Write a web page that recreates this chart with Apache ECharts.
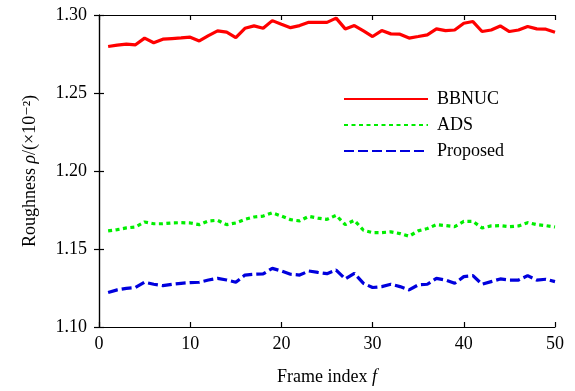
<!DOCTYPE html>
<html>
<head>
<meta charset="utf-8">
<script src="https://cdn.jsdelivr.net/npm/echarts@6/dist/echarts.min.js"></script>
<style>
  html, body { margin: 0; padding: 0; background: #fff; }
  #chart { width: 575px; height: 391px; }
</style>
</head>
<body>
<div id="chart"></div>
<script>
// frame index 1..50
const frames = []
for (let i = 1; i <= 50; i++) frames.push(i)

const bbnuc = [
  1.2798, 1.2807, 1.2813, 1.2809, 1.2852, 1.2822, 1.2845, 1.2849, 1.2853, 1.2858,
  1.2834, 1.2868, 1.2898, 1.2890, 1.2855, 1.2915, 1.2930, 1.2915, 1.2964, 1.2941,
  1.2919, 1.2932, 1.2953, 1.2953, 1.2953, 1.2980, 1.2911, 1.2932, 1.2898, 1.2862,
  1.2900, 1.2879, 1.2877, 1.2852, 1.2862, 1.2873, 1.2911, 1.2900, 1.2904, 1.2947,
  1.2958, 1.2894, 1.2904, 1.2930, 1.2894, 1.2904, 1.2926, 1.2911, 1.2909, 1.2890
]
const ads = [
  1.1616, 1.1624, 1.1635, 1.1641, 1.1673, 1.1662, 1.1662, 1.1667, 1.1669, 1.1667,
  1.1656, 1.1680, 1.1684, 1.1656, 1.1667, 1.1690, 1.1705, 1.1711, 1.1732, 1.1711,
  1.1688, 1.1680, 1.1709, 1.1698, 1.1690, 1.1716, 1.1656, 1.1684, 1.1620, 1.1605,
  1.1605, 1.1610, 1.1599, 1.1582, 1.1616, 1.1631, 1.1656, 1.1650, 1.1643, 1.1677,
  1.1677, 1.1635, 1.1648, 1.1650, 1.1643, 1.1648, 1.1669, 1.1656, 1.1650, 1.1641
]
const proposed = [
  1.1221, 1.1238, 1.1248, 1.1253, 1.1287, 1.1274, 1.1265, 1.1274, 1.1280, 1.1285,
  1.1287, 1.1301, 1.1312, 1.1301, 1.1287, 1.1333, 1.1338, 1.1340, 1.1376, 1.1359,
  1.1338, 1.1333, 1.1359, 1.1350, 1.1342, 1.1365, 1.1308, 1.1344, 1.1280, 1.1253,
  1.1259, 1.1274, 1.1259, 1.1238, 1.1270, 1.1274, 1.1312, 1.1301, 1.1280, 1.1323,
  1.1329, 1.1274, 1.1291, 1.1308, 1.1301, 1.1301, 1.1329, 1.1301, 1.1306, 1.1291
]

const xTicks = [0, 10, 20, 30, 40, 50]
const yTicks = ['1.10', '1.15', '1.20', '1.25', '1.30']

const font = '"Liberation Serif", "DejaVu Serif", serif'
const pairs = (vals) => frames.map((f, i) => [f, vals[i]])

const chart = echarts.init(document.getElementById('chart'), null, { renderer: 'canvas' })

const axisLine = { show: true, lineStyle: { color: '#000', width: 1.2 } }
const axisTick = { show: true, inside: true, length: 5, lineStyle: { color: '#000', width: 1.2 } }

const option = {
  backgroundColor: '#ffffff',
  animation: false,
  grid: { left: 99, right: 20, top: 15, bottom: 61 },
  legend: {
    orient: 'vertical',
    left: 343,
    top: 90,
    padding: 0,
    itemWidth: 84,
    itemHeight: 14,
    itemGap: 8,
    itemStyle: { opacity: 0 },
    textStyle: { fontFamily: font, fontSize: 18, color: '#000', padding: [0, 0, 0, 4] },
    data: ['BBNUC', 'ADS', 'Proposed']
  },
  xAxis: [{
    type: 'value',
    min: 0,
    max: 50,
    interval: 10,
    name: 'Frame index {i|f}',
    nameLocation: 'middle',
    nameGap: 41,
    nameTextStyle: {
      fontFamily: font, fontSize: 18, color: '#000',
      rich: { i: { fontFamily: font, fontSize: 18, fontStyle: 'italic', color: '#000' } }
    },
    axisLine,
    axisTick,
    splitLine: { show: false },
    axisLabel: { fontFamily: font, fontSize: 18, color: '#000', margin: 8,
      formatter: (v) => xTicks.includes(v) ? String(v) : '' }
  }, {
    type: 'value',
    position: 'top',
    min: 0,
    max: 50,
    interval: 10,
    axisLine,
    axisTick,
    splitLine: { show: false },
    axisLabel: { show: false }
  }],
  yAxis: [{
    type: 'value',
    min: 1.10,
    max: 1.30,
    interval: 0.05,
    name: 'Roughness {i|ρ}/(×10⁻²)',
    nameLocation: 'middle',
    nameGap: 60,
    nameRotate: 90,
    nameTextStyle: {
      fontFamily: font, fontSize: 18, color: '#000',
      rich: { i: { fontFamily: font, fontSize: 18, fontStyle: 'italic', color: '#000' } }
    },
    axisLine,
    axisTick,
    splitLine: { show: false },
    axisLabel: { fontFamily: font, fontSize: 18, color: '#000', margin: 12,
      formatter: (v) => yTicks[Math.round((v - 1.10) / 0.05)] }
  }, {
    type: 'value',
    position: 'right',
    min: 1.10,
    max: 1.30,
    interval: 0.05,
    axisLine,
    axisTick,
    splitLine: { show: false },
    axisLabel: { show: false }
  }],
  series: [
    {
      name: 'BBNUC',
      type: 'line',
      symbol: 'none',
      data: pairs(bbnuc),
      itemStyle: { color: '#ff0000' },
      lineStyle: { color: '#ff0000', width: 3.2 }
    },
    {
      name: 'ADS',
      type: 'line',
      symbol: 'none',
      data: pairs(ads),
      itemStyle: { color: '#00ee00' },
      lineStyle: { color: '#00ee00', width: 3.2, type: [4, 3.5] }
    },
    {
      name: 'Proposed',
      type: 'line',
      symbol: 'none',
      data: pairs(proposed),
      itemStyle: { color: '#0000dd' },
      lineStyle: { color: '#0000dd', width: 3.2, type: [10, 4] }
    }
  ]
}

chart.setOption(option)
</script>
</body>
</html>
